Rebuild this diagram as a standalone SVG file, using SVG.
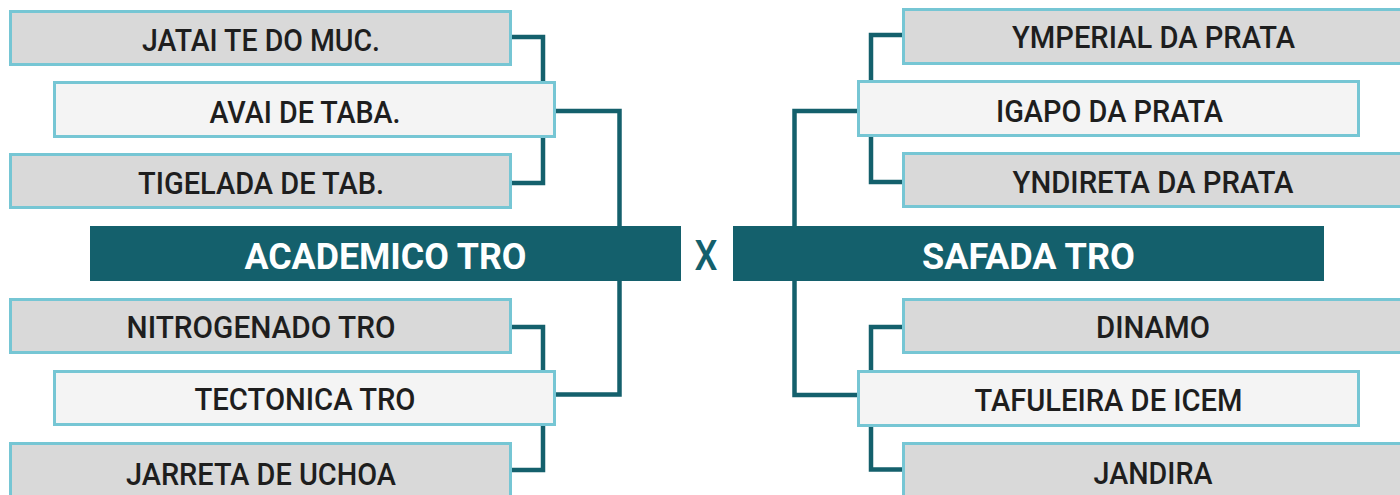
<svg xmlns="http://www.w3.org/2000/svg" width="1400" height="495" viewBox="0 0 1400 495">
<style>
.conn{fill:none;stroke:#14606c;stroke-width:4.5}
.box rect{stroke:#76c6d4;stroke-width:3}
.g rect{fill:#d9d9d9}
.l rect{fill:#f4f4f4}
.box text{font-family:Roboto,"Liberation Sans",sans-serif;font-weight:500;font-size:32px;fill:#1e1e1e;text-anchor:middle}
.hdr rect{fill:#14606c}
.hdr text{font-family:Roboto,"Liberation Sans",sans-serif;font-weight:700;font-size:37px;fill:#fff;text-anchor:middle}
.x{font-family:Roboto,"Liberation Sans",sans-serif;font-weight:500;font-size:42px;fill:#14606c;text-anchor:middle}
</style>
<rect width="1400" height="495" fill="#fff"/>
<g id="connectors">
<path class="conn" d="M512,37 H543 V183 H512"/>
<path class="conn" d="M556,111 H619.5 V226"/>
<path class="conn" d="M619.5,281 V394.5 H556"/>
<path class="conn" d="M512,327 H543 V470 H512"/>
<path class="conn" d="M902,35 H871 V182 H902"/>
<path class="conn" d="M857,111 H794.5 V226"/>
<path class="conn" d="M794.5,281 V395 H857"/>
<path class="conn" d="M902,327 H871 V469.5 H902"/>
</g>
<g id="jatai" class="box g"><rect x="10.5" y="11.5" width="500" height="53"/><text x="261" y="51" textLength="238" lengthAdjust="spacingAndGlyphs">JATAI TE DO MUC.</text></g>
<g id="avai" class="box l"><rect x="54.5" y="82.5" width="500" height="54"/><text x="305" y="123" textLength="191" lengthAdjust="spacingAndGlyphs">AVAI DE TABA.</text></g>
<g id="tigelada" class="box g"><rect x="10.5" y="154.5" width="500" height="53"/><text x="261" y="194" textLength="246" lengthAdjust="spacingAndGlyphs">TIGELADA DE TAB.</text></g>
<g id="academico" class="hdr"><rect x="90" y="226" width="591" height="55"/><text x="385.5" y="269" textLength="282" lengthAdjust="spacingAndGlyphs">ACADEMICO TRO</text></g>
<g id="nitrogenado" class="box g"><rect x="10.5" y="299.5" width="500" height="53"/><text x="261" y="338" textLength="269" lengthAdjust="spacingAndGlyphs">NITROGENADO TRO</text></g>
<g id="tectonica" class="box l"><rect x="54.5" y="371.5" width="500" height="53"/><text x="305" y="410" textLength="221" lengthAdjust="spacingAndGlyphs">TECTONICA TRO</text></g>
<g id="jarreta" class="box g"><rect x="10.5" y="443.5" width="500" height="53"/><text x="261" y="485" textLength="270" lengthAdjust="spacingAndGlyphs">JARRETA DE UCHOA</text></g>
<text id="versus" class="x" x="706" y="270" textLength="23" lengthAdjust="spacingAndGlyphs">X</text>
<g id="ymperial" class="box g"><rect x="903.5" y="9.5" width="500" height="54"/><text x="1153.5" y="48" textLength="283" lengthAdjust="spacingAndGlyphs">YMPERIAL DA PRATA</text></g>
<g id="igapo" class="box l"><rect x="858.5" y="81.5" width="500" height="54"/><text x="1109.5" y="122" textLength="227" lengthAdjust="spacingAndGlyphs">IGAPO DA PRATA</text></g>
<g id="yndireta" class="box g"><rect x="903.5" y="153.5" width="500" height="53"/><text x="1153" y="193" textLength="281" lengthAdjust="spacingAndGlyphs">YNDIRETA DA PRATA</text></g>
<g id="safada" class="hdr"><rect x="733" y="226" width="591" height="55"/><text x="1028.5" y="269" textLength="213" lengthAdjust="spacingAndGlyphs">SAFADA TRO</text></g>
<g id="dinamo" class="box g"><rect x="903.5" y="299.5" width="500" height="53"/><text x="1153" y="338" textLength="114" lengthAdjust="spacingAndGlyphs">DINAMO</text></g>
<g id="tafuleira" class="box l"><rect x="858.5" y="371.5" width="500" height="54"/><text x="1108.5" y="411" textLength="268" lengthAdjust="spacingAndGlyphs">TAFULEIRA DE ICEM</text></g>
<g id="jandira" class="box g"><rect x="903.5" y="443.5" width="500" height="53"/><text x="1153" y="484" textLength="119" lengthAdjust="spacingAndGlyphs">JANDIRA</text></g>
</svg>
